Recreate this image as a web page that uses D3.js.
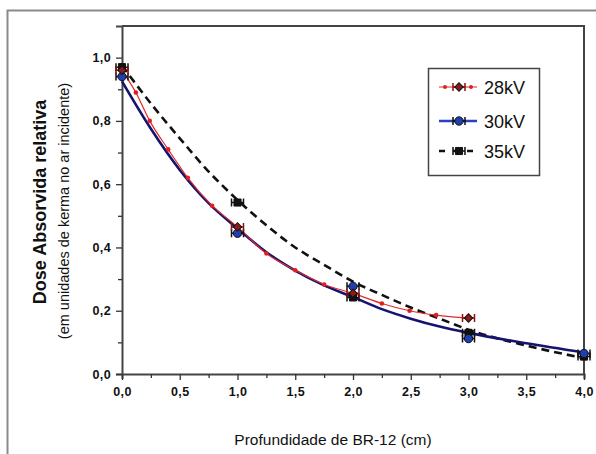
<!DOCTYPE html>
<html>
<head>
<meta charset="utf-8">
<script src="https://cdn.jsdelivr.net/npm/d3@7"></script>
<style>
  body { margin: 0; background: #fff; }
  svg { display: block; font-family: Arial, "Liberation Sans", sans-serif; }
</style>
</head>
<body>
<div class="canvas"></div>
<script>
// depth (cm) and relative dose values
var curveDepth = [0, 0.25, 0.5, 0.75, 1.0, 1.25, 1.5, 1.75, 2.0, 2.25, 2.5, 2.75, 3.0, 3.5, 4.0];
var dose30Curve = [0.925, 0.775, 0.645, 0.54, 0.46, 0.385, 0.327, 0.28, 0.243, 0.205, 0.175, 0.15, 0.13, 0.097, 0.068];
var dose35Curve = [0.975, 0.855, 0.745, 0.64, 0.55, 0.47, 0.40, 0.345, 0.292, 0.25, 0.21, 0.175, 0.14, 0.09, 0.05];

var depth28 = [0, 0.12, 0.24, 0.4, 0.57, 0.78, 1.0, 1.25, 1.5, 1.75, 2.0, 2.25, 2.49, 2.72, 3.0];
var dose28 = [0.96, 0.89, 0.80, 0.71, 0.62, 0.532, 0.465, 0.381, 0.328, 0.283, 0.255, 0.223, 0.20, 0.186, 0.177];

var pointDepth28 = [0, 1, 2, 3];
var pointDose28 = [0.96, 0.465, 0.255, 0.177];
var pointDepth = [0, 1, 2, 3, 4];
var pointDose30 = [0.94, 0.445, 0.277, 0.112, 0.065];
var pointDose35 = [0.97, 0.542, 0.242, 0.13, 0.055];

var xTicks = [0, 0.5, 1, 1.5, 2, 2.5, 3, 3.5, 4];
var yTicks = [0, 0.2, 0.4, 0.6, 0.8, 1.0];
var legendLabels = ["28kV", "30kV", "35kV"];

var svg, x, y;

function init() {
    var width = 596,
        height = 454,
        margin = {top: 26, right: 12, bottom: 80, left: 122};

    svg = d3.select(".canvas").append("svg")
            .attr("width", width)
            .attr("height", height);

    // outer frame (only top and left visible)
    svg.append("path")
       .attr("d", "M7.5,454V10.5H596")
       .attr("fill", "none")
       .attr("stroke", "#8a8a8a")
       .attr("stroke-width", 2);

    x = d3.scaleLinear().domain([0, 4]).range([margin.left, width - margin.right]);
    y = d3.scaleLinear().domain([0, 1.1]).range([height - margin.bottom, margin.top]);

    var fmt = function (d) { return d3.format(".1f")(d).replace(".", ","); };

    // plot box
    svg.append("path")
       .attr("d", "M" + x(0) + "," + y(1.1) + "H" + x(4) + "V" + y(0))
       .attr("fill", "none")
       .attr("stroke", "#444")
       .attr("stroke-width", 2);

    var xAxis = svg.append("g")
       .attr("transform", "translate(0," + y(0) + ")")
       .call(d3.axisBottom(x).tickValues(d3.range(0, 4.01, 0.25)).tickSize(5).tickFormat(""));
    xAxis.selectAll(".tick line").attr("y2", function (d, i) { return i % 2 ? 4 : 6; });
    svg.append("g")
       .attr("transform", "translate(0," + y(0) + ")")
       .call(d3.axisBottom(x).tickValues(xTicks).tickSize(0).tickPadding(13).tickFormat(fmt))
       .call(function (g) { g.select(".domain").remove(); });

    var yAxis = svg.append("g")
       .attr("transform", "translate(" + x(0) + ",0)")
       .call(d3.axisLeft(y).tickValues(d3.range(0, 1.01, 0.1)).tickSize(6).tickFormat(""));
    yAxis.selectAll(".tick line").attr("x2", function (d, i) { return i % 2 ? -4 : -6; });
    svg.append("g")
       .attr("transform", "translate(" + x(0) + ",0)")
       .call(d3.axisLeft(y).tickValues(yTicks).tickSize(0).tickPadding(11).tickFormat(fmt))
       .call(function (g) { g.select(".domain").remove(); });

    svg.selectAll(".domain").attr("stroke", "#444").attr("stroke-width", 2);
    svg.selectAll(".tick line").attr("stroke", "#333").attr("stroke-width", 1.3);
    svg.selectAll(".tick text")
       .attr("font-size", 12.5)
       .attr("font-weight", "bold")
       .attr("letter-spacing", 0.4)
       .attr("fill", "#111")
       .style("font-family", "Arial, 'Liberation Sans', sans-serif");

    // axis titles
    svg.append("text")
       .attr("x", 333).attr("y", 445)
       .attr("text-anchor", "middle")
       .attr("font-size", 15.5)
       .attr("fill", "#111")
       .text("Profundidade de BR-12 (cm)");
    svg.append("text")
       .attr("transform", "translate(46,202) rotate(-90)")
       .attr("text-anchor", "middle")
       .attr("font-size", 18)
       .attr("font-weight", "bold")
       .attr("fill", "#111")
       .text("Dose Absorvida relativa");
    svg.append("text")
       .attr("transform", "translate(69,211) rotate(-90)")
       .attr("text-anchor", "middle")
       .attr("font-size", 14.5)
       .attr("fill", "#111")
       .text("(em unidades de kerma no ar incidente)");

    drawSeries();
    drawLegend();
}

function line(xs, ys, curve) {
    return d3.line()
             .x(function (d, i) { return x(xs[i]); })
             .y(function (d) { return y(d); })
             .curve(curve)(ys);
}

function errorBar(g, cx, cy, color) {
    g.append("path")
     .attr("d", "M" + (cx - 6) + "," + cy + "H" + (cx + 6) +
                "M" + (cx - 6) + "," + (cy - 4) + "V" + (cy + 4) +
                "M" + (cx + 6) + "," + (cy - 4) + "V" + (cy + 4))
     .attr("fill", "none")
     .attr("stroke", color)
     .attr("stroke-width", 1.5);
}

function marker(g, cx, cy, type, fill, size) {
    g.append("path")
     .attr("transform", "translate(" + cx + "," + cy + ")" + (type === "diamond" ? " rotate(45)" : ""))
     .attr("d", d3.symbol().type(type === "circle" ? d3.symbolCircle : d3.symbolSquare).size(size)())
     .attr("fill", fill)
     .attr("stroke", "#111")
     .attr("stroke-width", 1);
}

function drawSeries() {
    var g = svg.append("g");

    // 35kV dashed
    g.append("path")
     .attr("d", line(curveDepth, dose35Curve, d3.curveMonotoneX))
     .attr("fill", "none")
     .attr("stroke", "#111")
     .attr("stroke-width", 2.6)
     .attr("stroke-dasharray", "8,5");

    // 30kV solid blue
    g.append("path")
     .attr("d", line(curveDepth, dose30Curve, d3.curveMonotoneX))
     .attr("fill", "none")
     .attr("stroke", "#141470")
     .attr("stroke-width", 2.6);

    // 28kV thin red with dots
    g.append("path")
     .attr("d", line(depth28, dose28, d3.curveMonotoneX))
     .attr("fill", "none")
     .attr("stroke", "#e02a2a")
     .attr("stroke-width", 1.2);
    g.selectAll(".dot28")
     .data(dose28)
     .enter().append("circle")
     .attr("class", "dot28")
     .attr("cx", function (d, i) { return x(depth28[i]); })
     .attr("cy", function (d) { return y(d); })
     .attr("r", 2.3)
     .attr("fill", "#e02020");

    pointDepth.forEach(function (d, i) {
        errorBar(g, x(d), y(pointDose35[i]), "#111");
        marker(g, x(d), y(pointDose35[i]), "square", "#111", 50);
    });
    pointDepth.forEach(function (d, i) {
        errorBar(g, x(d), y(pointDose30[i]), "#111");
        marker(g, x(d), y(pointDose30[i]), "circle", "#1f3fb0", 55);
    });
    pointDepth28.forEach(function (d, i) {
        errorBar(g, x(d), y(pointDose28[i]), "#8b1010");
        marker(g, x(d), y(pointDose28[i]), "diamond", "#8b1a1a", 36);
    });
}

function drawLegend() {
    var g = svg.append("g");
    g.append("rect")
     .attr("x", 428.5).attr("y", 68.5)
     .attr("width", 111).attr("height", 107)
     .attr("fill", "#fff")
     .attr("stroke", "#444")
     .attr("stroke-width", 1.5);

    var rows = [87, 121, 151];
    var styles = [
        {stroke: "#e02a2a", width: 1.2, dash: null, type: "diamond", fill: "#8b1a1a", size: 36},
        {stroke: "#2a40c0", width: 2.6, dash: null, type: "circle", fill: "#1f3fb0", size: 55},
        {stroke: "#111", width: 2.6, dash: "6,8", type: "square", fill: "#111", size: 50}
    ];
    legendLabels.forEach(function (label, i) {
        var s = styles[i], cy = rows[i];
        g.append("line")
         .attr("x1", 439).attr("x2", 477)
         .attr("y1", cy).attr("y2", cy)
         .attr("stroke", s.stroke)
         .attr("stroke-width", s.width)
         .attr("stroke-dasharray", s.dash);
        if (i === 0) {
            [445, 471].forEach(function (dx) {
                g.append("circle").attr("cx", dx).attr("cy", cy).attr("r", 2).attr("fill", "#e02020");
            });
        }
        errorBar(g, 459, cy, i === 0 ? "#8b1010" : "#111");
        marker(g, 459, cy, s.type, s.fill, s.size);
        g.append("text")
         .attr("x", 484).attr("y", cy + 6.5)
         .attr("font-size", 18)
         .attr("fill", "#111")
         .text(label);
    });
}

init();
</script>
</body>
</html>
